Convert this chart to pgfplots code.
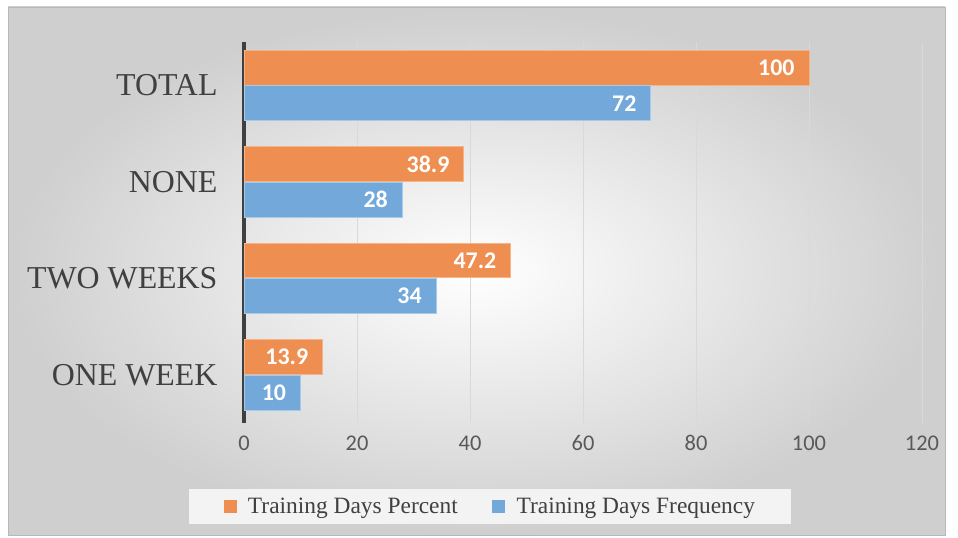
\documentclass[border=0pt]{standalone}
\usepackage{fontspec}
\setmainfont{Liberation Serif}
\newfontfamily\carlito{Carlito}
\usepackage{pgfplots}
\pgfplotsset{compat=1.18}
\definecolor{cOrange}{HTML}{EE8E50}
\definecolor{cOrangeEdge}{HTML}{F4B48A}
\definecolor{cBlue}{HTML}{72A8DA}
\definecolor{cBlueEdge}{HTML}{A8CAEA}
\definecolor{cGrid}{HTML}{D9D9D9}
\definecolor{cAxis}{HTML}{404040}
\definecolor{cTick}{HTML}{595959}
\definecolor{cLegBg}{HTML}{F3F3F3}
\begin{document}
\begin{tikzpicture}
\fill[white] (0bp,0bp) rectangle (958bp,538bp);
\shade[inner color=white, outer color=black!19] (8bp,3bp) rectangle (945bp,531bp);
\draw[black!28, line width=0.8bp] (8bp,3bp) rectangle (945bp,531bp);
\begin{axis}[
  at={(244bp,115bp)}, anchor=south west,
  scale only axis, width=678bp, height=381bp,
  xmin=0, xmax=120, ymin=-0.5, ymax=3.45,
  xtick={0,20,...,120}, ytick={0,1,2,3},
  yticklabels={ONE WEEK, TWO WEEKS, NONE, TOTAL},
  major tick length=0pt,
  xmajorgrids, grid style={color=cGrid, line width=1bp},
  axis lines*=left,
  x axis line style={draw=none},
  y axis line style={line width=3bp, color=cAxis, -},
  /pgf/number format/assume math mode=true,
  xticklabel style={font=\carlito\fontsize{22.5}{22.5}\selectfont, text=cTick, yshift=-9bp},
  yticklabel style={font=\fontsize{32}{32}\selectfont, text=cAxis, xshift=-23bp},
  xbar, bar width=0.36,
  nodes near coords,
  nodes near coords style={anchor=east, font=\carlito\bfseries\fontsize{24}{24}\selectfont, text=white, xshift=-14bp, inner sep=0pt},
  legend columns=2,
  legend style={at={(0.363,-0.218)}, anchor=center, fill=cLegBg, draw=none,
    font=\fontsize{23.5}{24}\selectfont, text=cAxis, inner xsep=34bp, inner ysep=7bp,
    /tikz/every even column/.append style={column sep=32bp}},
  legend image code/.code={\path[#1, draw=none] (0bp,-6.5bp) rectangle (13bp,6.5bp); \path (0bp,0bp) (22bp,0bp);},
]
\addplot[fill=cOrange, draw=cOrangeEdge, line width=0.8bp, bar shift=0.185] coordinates {(13.9,0) (47.2,1) (38.9,2) (100,3)};
\addplot[fill=cBlue, draw=cBlueEdge, line width=0.8bp, bar shift=-0.185] coordinates {(10,0) (34,1) (28,2) (72,3)};
\legend{Training Days Percent, Training Days Frequency}
\end{axis}
\end{tikzpicture}
\end{document}
